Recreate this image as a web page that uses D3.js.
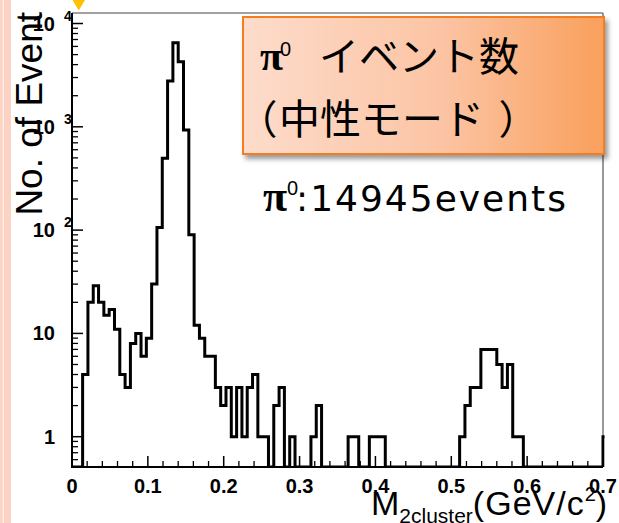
<!DOCTYPE html>
<html><head><meta charset="utf-8">
<script src="https://cdn.jsdelivr.net/npm/d3@7"></script>
<style>
html,body{margin:0;padding:0;background:#fff;}
svg{display:block;}
</style></head><body>
<svg id="c" width="619" height="523"></svg>
<script>
// ---------- data ----------
const binWidth = 0.007;           // GeV/c^2 per bin
const counts = [
  0,0,4,20,29,20,15,17,11,4,
  3,8,10,6,9,30,106,496,2775,6516,
  4268,931,90,12,9,6,6,3,2,3,
  1,3,1,3,4,1,1,0,2,3,
  0,1,0,0,0,1,2,0,0,0,
  0,0,1,1,0,0,1,1,1,0,
  0,0,0,0,0,0,0,0,0,0,
  0,0,0,1,2,3,3,7,7,7,
  5,3,5,1,1,0,0,0,0,0,
  0,0,0,0,0,0,0,0,0,0,
  1
];
const xTicksMajor = [0,0.1,0.2,0.3,0.4,0.5,0.6,0.7];
const xTickLabels = ["0","0.1","0.2","0.3","0.4","0.5","0.6","0.7"];
const yTicksMajor = [1,10,100,1000,10000];
const yTickBase  = ["1","10","10","10","10"];
const yTickExp   = ["","","2","3","4"];
const yTitle = "No. of Event";
const boxLine1 = "イベント数";
const boxLine2 = ["（","中性モード","）"];
const eventsText = ":14945events";

// ---------- layout ----------
const L = 72, R = 603, T = 13, B = 467;
const svg = d3.select("#c");
const x = d3.scaleLinear().domain([0, 0.7]).range([L, R]);
const y = d3.scaleLog().domain([0.509, 12640]).range([B, T]);
const yMin = y.domain()[0];

const defs = svg.append("defs");
defs.append("clipPath").attr("id","plotclip").append("rect")
  .attr("x", L).attr("y", T).attr("width", R - L + 1.6).attr("height", B - T);
const grad = defs.append("linearGradient").attr("id","boxgrad")
  .attr("x1","0%").attr("x2","100%").attr("y1","0%").attr("y2","0%");
grad.append("stop").attr("offset","0%").attr("stop-color","#fddccb");
grad.append("stop").attr("offset","55%").attr("stop-color","#fcc4a4");
grad.append("stop").attr("offset","100%").attr("stop-color","#f9a05c");
const flt = defs.append("filter").attr("id","shadow")
  .attr("x","-10%").attr("y","-10%").attr("width","130%").attr("height","140%");
flt.append("feDropShadow").attr("dx",3).attr("dy",4).attr("stdDeviation",2.5)
  .attr("flood-color","#000").attr("flood-opacity",0.4);

// slide decorations
svg.append("rect").attr("x",0).attr("y",0).attr("width",11).attr("height",523).attr("fill","#fcd3c3");
svg.append("rect").attr("x",2.6).attr("y",0).attr("width",1.3).attr("height",523).attr("fill","#fff1eb");
svg.append("polygon").attr("points","72.5,0 85,0 78.7,10.5").attr("fill","#ffc000");

// frame
svg.append("line").attr("x1",L).attr("x2",R).attr("y1",T).attr("y2",T)
  .attr("stroke","#444").attr("stroke-width",1.2);
svg.append("line").attr("x1",R).attr("x2",R).attr("y1",T).attr("y2",B)
  .attr("stroke","#777").attr("stroke-width",1.5);

// histogram
const pts = counts.map((c,i)=>[i*binWidth, c]);
pts.push([counts.length*binWidth, 0]);
const line = d3.line()
  .x(d => x(d[0]))
  .y(d => y(Math.max(d[1], yMin)))
  .curve(d3.curveStepAfter);
svg.append("path").attr("d", line(pts))
  .attr("fill","none").attr("stroke","#000").attr("stroke-width",3)
  .attr("stroke-linejoin","miter").attr("clip-path","url(#plotclip)");

// y ticks
const yMinor = [];
[0.1,1,10,100,1000].forEach(dec => { for (let k=2;k<=9;k++){ const v=dec*k; if (v>=yMin && v<=y.domain()[1]) yMinor.push(v);} });
const gy = svg.append("g");
gy.selectAll("line.mj").data(yTicksMajor).join("line")
  .attr("x1",L).attr("x2",L+11).attr("y1",d=>y(d)).attr("y2",d=>y(d))
  .attr("stroke","#000").attr("stroke-width",1.5);
gy.selectAll("line.mn").data(yMinor).join("line").attr("class","mn")
  .attr("x1",L).attr("x2",L+6).attr("y1",d=>y(d)).attr("y2",d=>y(d))
  .attr("stroke","#000").attr("stroke-width",1.3);
gy.selectAll("text.b").data(yTicksMajor).join("text").attr("class","b")
  .attr("x",55).attr("y",d=>y(d)+7)
  .attr("text-anchor","end").attr("font-family","'Liberation Sans', Arial, sans-serif")
  .attr("font-weight","bold").attr("font-size",20)
  .text((d,i)=>yTickBase[i]);
gy.selectAll("text.e").data(yTicksMajor).join("text").attr("class","e")
  .attr("x",64).attr("y",d=>y(d)-3)
  .attr("font-family","'Liberation Sans', Arial, sans-serif")
  .attr("font-weight","bold").attr("font-size",14)
  .text((d,i)=>yTickExp[i]);

// x ticks
const xMinor = d3.range(0, 36).map(i => i*0.02).filter(v => Math.abs(v*10 - Math.round(v*10)) > 1e-6 && v <= 0.7);
const gx = svg.append("g");
gx.selectAll("line.mj").data(xTicksMajor).join("line")
  .attr("x1",d=>x(d)).attr("x2",d=>x(d)).attr("y1",B).attr("y2",B-11)
  .attr("stroke","#000").attr("stroke-width",1.5);
gx.selectAll("line.mn").data(xMinor).join("line").attr("class","mn")
  .attr("x1",d=>x(d)).attr("x2",d=>x(d)).attr("y1",B).attr("y2",B-6)
  .attr("stroke","#000").attr("stroke-width",1.3);
gx.selectAll("text").data(xTicksMajor).join("text")
  .attr("x",d=>x(d)).attr("y",493)
  .attr("text-anchor","middle").attr("font-family","'Liberation Sans', Arial, sans-serif")
  .attr("font-weight","bold").attr("font-size",20)
  .text((d,i)=>xTickLabels[i]);

// axes lines
svg.append("line").attr("x1",L).attr("x2",L).attr("y1",T).attr("y2",B+1)
  .attr("stroke","#000").attr("stroke-width",2);
svg.append("line").attr("x1",L-1).attr("x2",R).attr("y1",B).attr("y2",B)
  .attr("stroke","#000").attr("stroke-width",2);

// y title
svg.append("text")
  .attr("transform","translate(42,12) rotate(-90)")
  .attr("text-anchor","end")
  .attr("font-family","'Liberation Sans', Arial, sans-serif")
  .attr("font-size",37).attr("fill","#000")
  .text(yTitle);

// x title
const xt = svg.append("text").attr("x",371).attr("y",515)
  .attr("font-family","'Liberation Sans', Arial, sans-serif").attr("font-size",34).attr("fill","#000");
xt.append("tspan").text("M");
xt.append("tspan").attr("font-size",21).attr("dy",8).text("2cluster");
xt.append("tspan").attr("font-size",34).attr("dy",-8).attr("letter-spacing",1).text("(GeV/c");
xt.append("tspan").attr("font-size",20).attr("dy",-14).text("2");
xt.append("tspan").attr("font-size",34).attr("dy",14).text(")");

// orange box
svg.append("rect").attr("x",243).attr("y",17).attr("width",361).attr("height",137)
  .attr("fill","url(#boxgrad)").attr("stroke","#f47d20").attr("stroke-width",2)
  .attr("filter","url(#shadow)");
const cjk = "'Noto Sans CJK JP', 'Noto Sans CJK SC', sans-serif";
svg.append("text").attr("x",260).attr("y",70)
  .attr("font-family","'Liberation Serif', 'Times New Roman', serif").attr("font-weight","bold")
  .attr("font-size",42).text("π");
svg.append("text").attr("x",280).attr("y",56)
  .attr("font-family","'Liberation Sans', Arial, sans-serif").attr("font-size",20).text("0");
svg.append("text").attr("x",319).attr("y",71)
  .attr("font-family",cjk).attr("font-size",40).text(boxLine1);
const l2x = [256, 279, 500];
const l2s = [40, 41, 40];
boxLine2.forEach((s,i) => {
  svg.append("text").attr("x",l2x[i]).attr("y",134)
    .attr("font-family",cjk).attr("font-size",l2s[i])
    .style("font-feature-settings", i === 1 ? "normal" : "'palt'").text(s);
});

// events text
svg.append("text").attr("x",263).attr("y",211)
  .attr("font-family","'Liberation Serif', 'Times New Roman', serif").attr("font-weight","bold")
  .attr("font-size",44).text("π");
svg.append("text").attr("x",287).attr("y",195)
  .attr("font-family","'Liberation Sans', Arial, sans-serif").attr("font-size",20).text("0");
svg.append("text").attr("x",296).attr("y",211)
  .attr("font-family","'DejaVu Sans', sans-serif").attr("font-size",36)
  .attr("letter-spacing",2).text(eventsText);
</script>
</body></html>
